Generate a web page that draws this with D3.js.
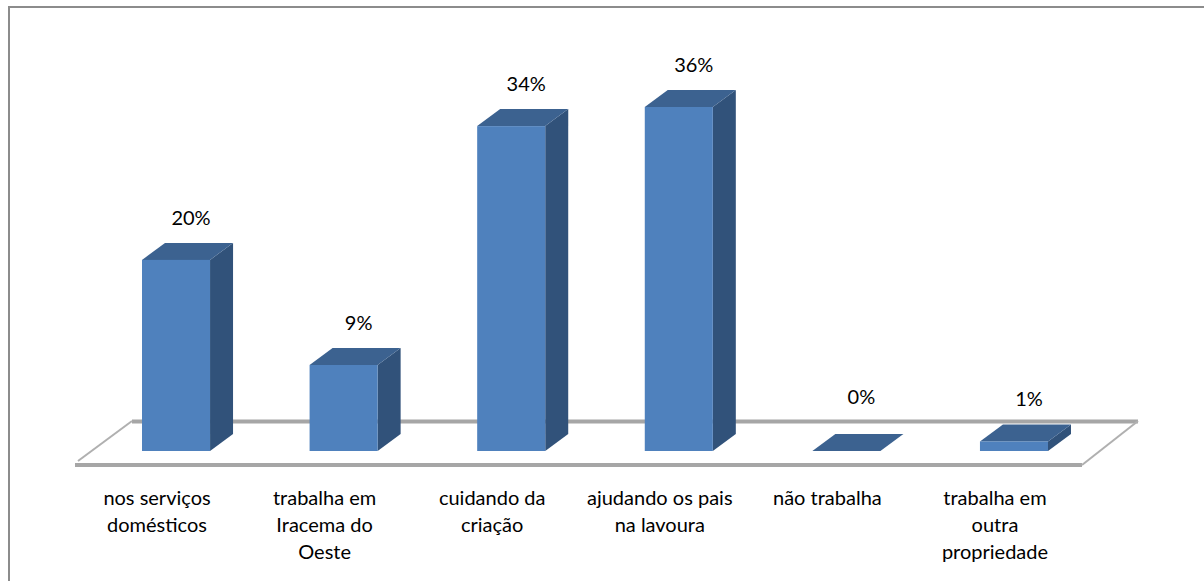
<!DOCTYPE html>
<html><head><meta charset="utf-8">
<script src="https://cdn.jsdelivr.net/npm/d3@7"></script>
<style>html,body{margin:0;padding:0;background:#fff}svg{display:block}text{font-family:Lato,"Open Sans",sans-serif;font-size:20px;fill:#000}</style>
</head><body><svg id="c" width="1204" height="583"></svg>
<script>
const categories=["nos serviços domésticos","trabalha em Iracema do Oeste","cuidando da criação","ajudando os pais na lavoura","não trabalha","trabalha em outra propriedade"];
const labelLines=[["nos serviços","domésticos"],["trabalha em","Iracema do","Oeste"],["cuidando da","criação"],["ajudando os pais","na lavoura"],["não trabalha"],["trabalha em","outra","propriedade"]];
const values=[20,9,34,36,0,1];
const tickLabels=["20%","9%","34%","36%","0%","1%"];
const dx=23,dy=17;
const svg=d3.select("#c");
const x=d3.scaleBand().domain(categories).range([142,1048]).paddingInner(0.594).paddingOuter(0);
const y=d3.scaleLinear().domain([0,36]).range([451,107]);
svg.append("path").attr("d","M9,581V7H1204").attr("fill","none").attr("stroke","#8c8c8c").attr("stroke-width",2);
const floor=svg.append("g");
floor.append("line").attr("x1",132).attr("x2",1138).attr("y1",421.5).attr("y2",421.5).attr("stroke","#a6a6a6").attr("stroke-width",4);
floor.append("line").attr("x1",75).attr("x2",1082).attr("y1",465).attr("y2",465).attr("stroke","#a6a6a6").attr("stroke-width",4);
floor.append("line").attr("x1",78).attr("y1",461).attr("x2",132).attr("y2",421).attr("stroke","#b0b0b0").attr("stroke-width",2);
floor.append("line").attr("x1",1082).attr("y1",465).attr("x2",1138).attr("y2",421).attr("stroke","#b0b0b0").attr("stroke-width",2);
const bars=svg.selectAll("g.bar").data(categories.map((c,i)=>({c,v:values[i],t:tickLabels[i]}))).join("g").attr("class","bar");
bars.append("path").attr("fill","#31527a").attr("d",d=>{const r=x(d.c)+x.bandwidth(),t=y(d.v),b=y(0);return `M${r},${t}L${r+dx},${t-dy}V${b-dy}L${r},${b}Z`});
bars.append("path").attr("fill","#3c6290").attr("d",d=>{const l=x(d.c),r=l+x.bandwidth(),t=y(d.v);return `M${l},${t}L${l+dx},${t-dy}H${r+dx}L${r},${t}Z`});
bars.append("rect").attr("fill","#4f81bd").attr("x",d=>x(d.c)).attr("width",x.bandwidth()).attr("y",d=>y(d.v)).attr("height",d=>y(0)-y(d.v));
bars.append("text").attr("text-anchor","middle").attr("x",d=>x(d.c)+x.bandwidth()/2+15).attr("y",d=>y(d.v)-(d.v===0?47:35)).text(d=>d.t);
const ax=svg.append("g").attr("transform","translate(-19,0)");
ax.selectAll("text").data(categories).join("text").attr("text-anchor","middle").attr("y",505).each(function(c,i){
 d3.select(this).selectAll("tspan").data(labelLines[i]).join("tspan").attr("x",x(c)+x.bandwidth()/2).attr("dy",(d,j)=>j?27:0).text(d=>d);
});
</script></body></html>
